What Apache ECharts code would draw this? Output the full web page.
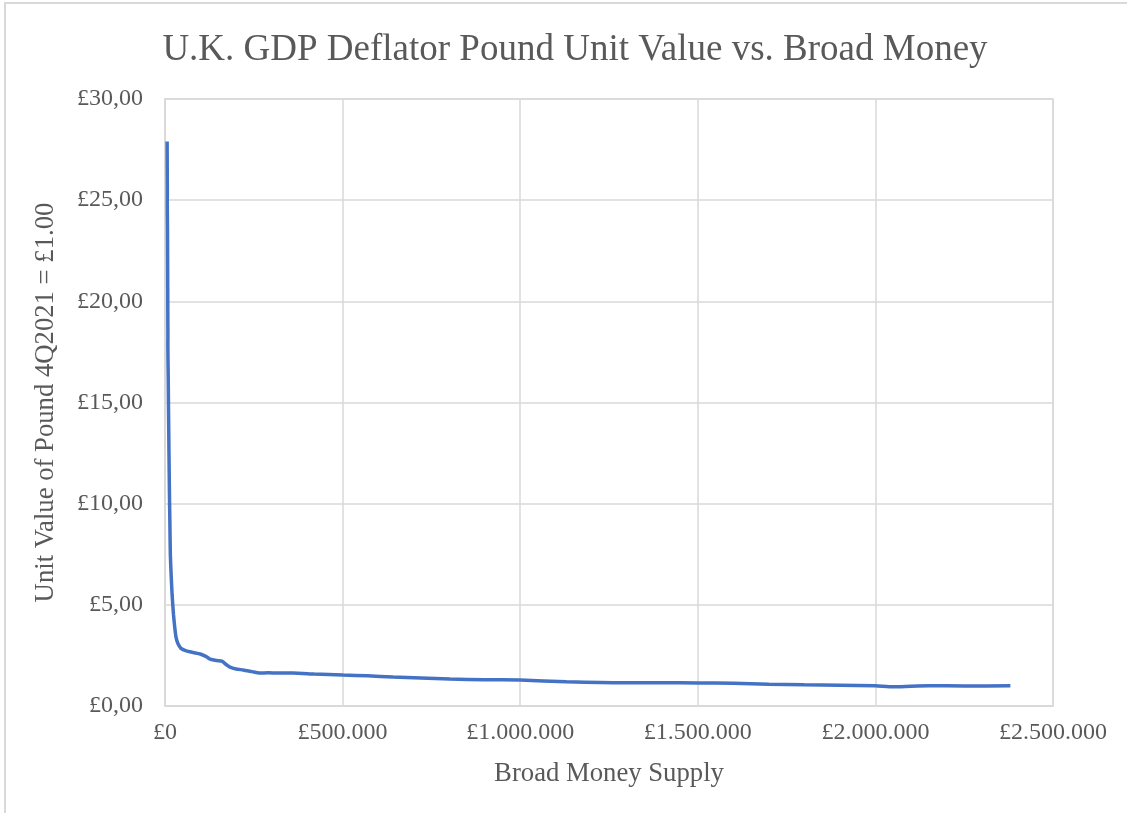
<!DOCTYPE html>
<html>
<head>
<meta charset="utf-8">
<script src="https://cdn.jsdelivr.net/npm/echarts@6/dist/echarts.min.js"></script>
<style>
html,body{margin:0;padding:0;background:#fff;}
#chart{width:1127px;height:813px;}
</style>
</head>
<body>
<div id="chart"></div>
<script>
// Broad money supply (x) and unit value of pound, 4Q2021 = £1.00 (y)
var moneySupply = [6000, 6300, 6600, 6400, 7000, 7500, 7900, 8200, 8000, 9000, 10000, 11200, 12500, 13800, 15000, 17500, 20000, 24000, 28000, 31000, 36000, 45000, 60000, 80000, 99000, 115000, 127000, 145000, 160000, 172000, 183000, 200000, 220000, 245000, 267000, 290000, 320000, 360000, 420000, 501000, 570000, 642000, 720000, 802000, 900000, 1000000, 1130000, 1290000, 1400000, 1500000, 1600000, 1700000, 1800000, 1900000, 2000000, 2050000, 2100000, 2150000, 2250000, 2380000];
var unitValue = [27.9, 26.5, 25.3, 24.9, 23.5, 21.5, 19.5, 18.2, 17.9, 16.3, 14.5, 12.5, 10.5, 9.0, 7.5, 6.4, 5.5, 4.5, 3.8, 3.4, 3.1, 2.85, 2.72, 2.64, 2.57, 2.45, 2.32, 2.25, 2.22, 2.05, 1.92, 1.83, 1.78, 1.70, 1.63, 1.64, 1.63, 1.63, 1.58, 1.53, 1.49, 1.43, 1.38, 1.33, 1.30, 1.28, 1.20, 1.15, 1.15, 1.14, 1.12, 1.08, 1.05, 1.03, 1.00, 0.95, 0.98, 1.00, 0.99, 1.00];
var yTicks = [0, 5, 10, 15, 20, 25, 30];
var xTicks = [0, 500000, 1000000, 1500000, 2000000, 2500000];

var points = moneySupply.map(function (m, i) { return [m, unitValue[i]]; });
var font = '"Liberation Serif", "Times New Roman", serif';
var txt = '#595959';
var gridC = '#d9d9d9';

function fmtX(v) {
  return '£' + String(Math.round(v)).replace(/\B(?=(\d{3})+(?!\d))/g, '.');
}
function fmtY(v) {
  return '£' + v.toFixed(2).replace('.', ',');
}

var chart = echarts.init(document.getElementById('chart'), null, {renderer: 'canvas'});
chart.setOption({
  backgroundColor: '#ffffff',
  animation: false,
  title: {
    text: 'U.K. GDP Deflator Pound Unit Value vs. Broad Money',
    left: 570,
    textAlign: 'center',
    top: 27,
    textStyle: {fontFamily: font, fontSize: 37, fontWeight: 'normal', color: txt}
  },
  graphic: [{
    type: 'rect',
    shape: {x: 5, y: 3, width: 1300, height: 1000},
    style: {fill: 'none', stroke: gridC, lineWidth: 2},
    silent: true
  }],
  grid: {
    left: 165, right: 74, top: 99, bottom: 107,
    show: true, borderColor: gridC, borderWidth: 1.5, containLabel: false
  },
  xAxis: {
    type: 'value',
    min: xTicks[0], max: xTicks[xTicks.length - 1], interval: 500000,
    name: 'Broad Money Supply',
    nameLocation: 'middle',
    nameGap: 54,
    nameTextStyle: {fontFamily: font, fontSize: 26.7, color: txt},
    axisLine: {show: true, lineStyle: {color: gridC, width: 1.5}},
    axisTick: {show: false},
    axisLabel: {fontFamily: font, fontSize: 24, color: txt, margin: 15, formatter: fmtX},
    splitLine: {show: true, lineStyle: {color: gridC, width: 1.5}}
  },
  yAxis: {
    type: 'value',
    min: yTicks[0], max: yTicks[yTicks.length - 1], interval: 5,
    name: 'Unit Value of Pound 4Q2021 = £1.00',
    nameLocation: 'middle',
    nameRotate: 90,
    nameGap: 106,
    nameTextStyle: {fontFamily: font, fontSize: 26.7, color: txt},
    axisLine: {show: true, lineStyle: {color: gridC, width: 1.5}},
    axisTick: {show: false},
    axisLabel: {fontFamily: font, fontSize: 24, color: txt, margin: 22, padding: [5, 0, 0, 0], formatter: fmtY},
    splitLine: {show: true, lineStyle: {color: gridC, width: 1.5}}
  },
  series: [{
    type: 'line',
    data: points,
    showSymbol: false,
    smooth: 0.2,
    lineStyle: {color: '#4472C4', width: 3.5},
    itemStyle: {color: '#4472C4'}
  }]
});
</script>
</body>
</html>
